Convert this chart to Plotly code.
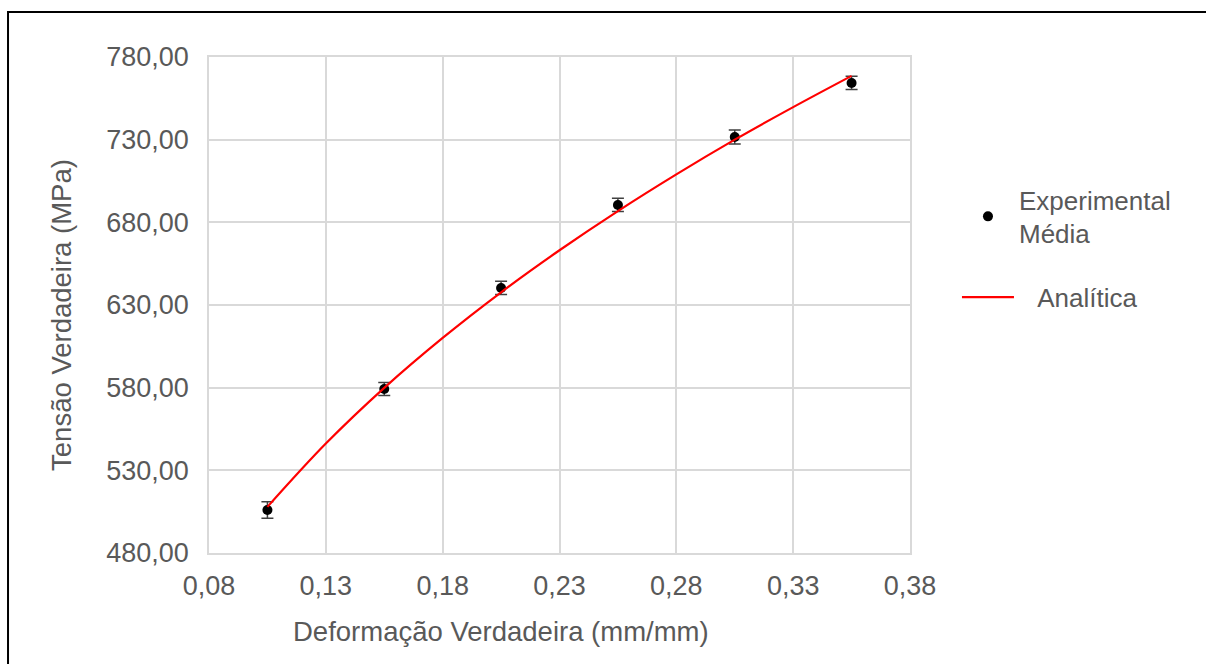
import plotly.graph_objects as go

# Experimental mean data
exp_strain = [0.105, 0.155, 0.205, 0.255, 0.305, 0.355]
exp_stress = [506.0, 579.2, 640.3, 690.5, 731.6, 764.3]
exp_err = [5.0, 4.0, 4.0, 4.0, 4.2, 4.0]

# Analytical curve
an_strain = [0.105, 0.13, 0.155, 0.18, 0.205, 0.23, 0.255, 0.28, 0.305, 0.33, 0.355]
an_stress = [507.9, 546.2, 579.9, 610.1, 637.7, 663.1, 686.8, 709.0, 730.0, 749.7, 768.6]

x_ticks = [0.08, 0.13, 0.18, 0.23, 0.28, 0.33, 0.38]
y_ticks = [480, 530, 580, 630, 680, 730, 780]

x_title = "Deformação Verdadeira (mm/mm)"
y_title = "Tensão Verdadeira (MPa)"

FONT = "Liberation Sans, Arial, sans-serif"
GRID = "#d9d9d9"
TXT = "#595959"
FS = 27

fig = go.Figure()
fig.add_trace(go.Scatter(
    x=exp_strain, y=exp_stress, mode="markers",
    name="Experimental<br>Média", legendgroup="a",
    marker=dict(color="black", size=10),
    error_y=dict(type="data", array=exp_err, visible=True,
                 color="#404040", thickness=1.5, width=6),
))
fig.add_trace(go.Scatter(
    x=an_strain, y=an_stress, mode="lines",
    name="\u2002\u2009Analítica", legendgroup="b",
    line=dict(color="#ff0000", width=2.2, shape="spline"),
))

fig.update_layout(
    width=1206, height=664,
    margin=dict(l=209, r=296, t=57, b=111),
    paper_bgcolor="white", plot_bgcolor="white",
    separators=",.",
    font=dict(family=FONT, size=FS, color=TXT),
    showlegend=True,
    legend=dict(x=1.067, y=0.76, xanchor="left", yanchor="top",
                font=dict(family=FONT, size=26, color=TXT),
                tracegroupgap=27, itemwidth=52, bgcolor="rgba(0,0,0,0)"),
    xaxis=dict(range=[0.08, 0.38], tickvals=x_ticks, tickformat=".2f",
               showgrid=True, gridcolor=GRID, gridwidth=1.5,
               showline=True, linecolor=GRID, linewidth=1.5, mirror=True,
               zeroline=False, ticks="", ticklabelstandoff=8,
               tickfont=dict(size=FS, color=TXT)),
    yaxis=dict(range=[480, 780], tickvals=y_ticks, tickformat=".2f",
               showgrid=True, gridcolor=GRID, gridwidth=1.5,
               showline=True, linecolor=GRID, linewidth=1.5, mirror=True,
               zeroline=False, ticks="", ticklabelstandoff=13,
               tickfont=dict(size=FS, color=TXT)),
    annotations=[
        dict(text=x_title, xref="paper", yref="paper", x=0.417, y=-0.159,
             xanchor="center", yanchor="middle", showarrow=False,
             font=dict(family=FONT, size=27.5, color=TXT)),
        dict(text=y_title, xref="paper", yref="paper", x=-0.2097, y=0.48,
             xanchor="center", yanchor="middle", showarrow=False, textangle=-90,
             font=dict(family=FONT, size=27.5, color=TXT)),
    ],
    shapes=[dict(type="rect", xref="paper", yref="paper",
                 x0=-0.2867, x1=1.6, y0=-0.4, y1=1.0907,
                 line=dict(color="black", width=2), layer="below")],
)

fig.write_html("out.html", config={"displayModeBar": False},
               post_script="document.body.style.margin='0';")
